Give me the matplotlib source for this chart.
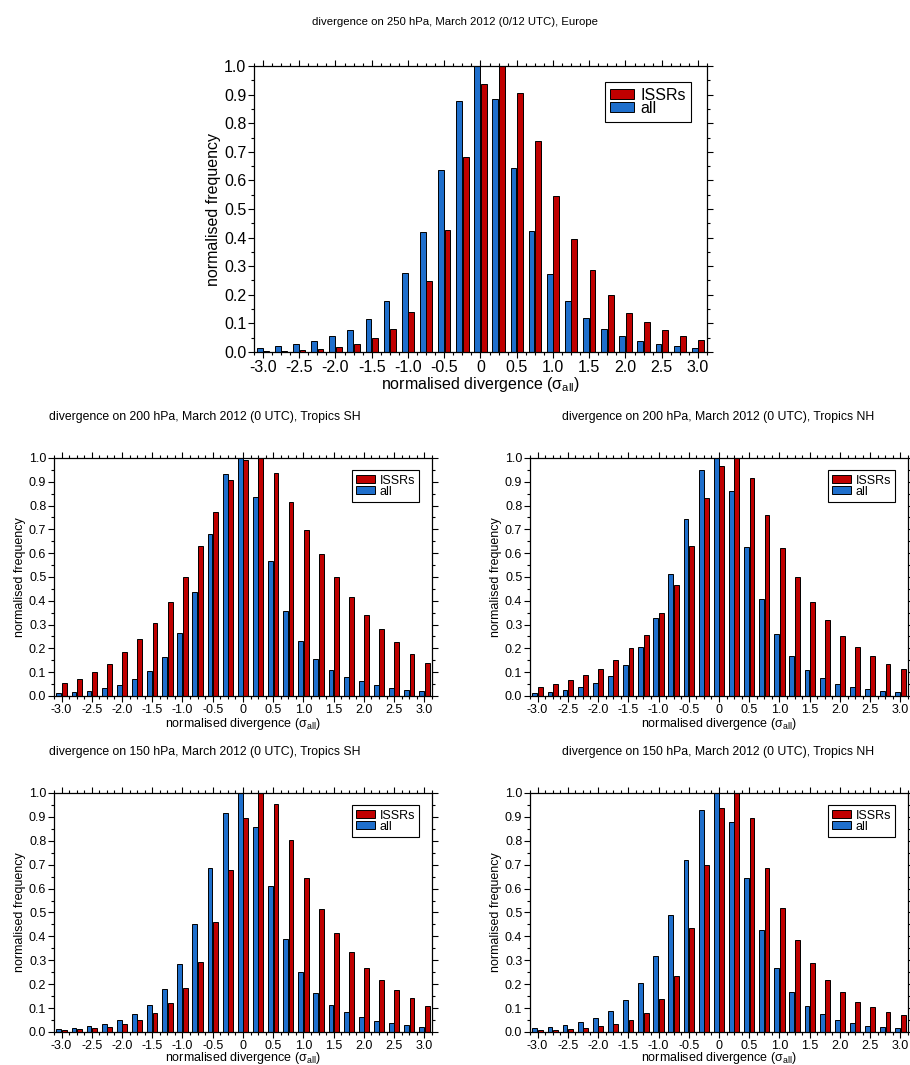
import numpy as np
import matplotlib
matplotlib.use('Agg')
import matplotlib.pyplot as plt
from matplotlib.ticker import MultipleLocator

plt.rcParams['font.family'] = ['Liberation Sans', 'DejaVu Sans']
plt.rcParams['mathtext.fontset'] = 'custom'
plt.rcParams['mathtext.rm'] = 'Liberation Sans'

# bin centres of normalised divergence
bins = [-3.0, -2.75, -2.5, -2.25, -2.0, -1.75, -1.5, -1.25, -1.0, -0.75, -0.5, -0.25, 0.0,
        0.25, 0.5, 0.75, 1.0, 1.25, 1.5, 1.75, 2.0, 2.25, 2.5, 2.75, 3.0]

# 250 hPa, Europe
eu250_all = [0.014, 0.021, 0.028, 0.040, 0.055, 0.078, 0.117, 0.177, 0.275, 0.420, 0.637, 0.877, 1.000,
             0.885, 0.644, 0.422, 0.273, 0.177, 0.120, 0.080, 0.055, 0.039, 0.028, 0.021, 0.015]
eu250_issr = [0.005, 0.005, 0.008, 0.012, 0.019, 0.029, 0.048, 0.082, 0.139, 0.247, 0.428, 0.683, 0.936,
              1.000, 0.907, 0.737, 0.546, 0.394, 0.288, 0.198, 0.138, 0.106, 0.077, 0.057, 0.043]

# 200 hPa, Tropics SH
sh200_all = [0.011, 0.015, 0.022, 0.032, 0.046, 0.070, 0.107, 0.164, 0.265, 0.438, 0.682, 0.931, 1.000,
             0.834, 0.568, 0.356, 0.229, 0.154, 0.108, 0.080, 0.062, 0.045, 0.035, 0.027, 0.020]
sh200_issr = [0.055, 0.073, 0.100, 0.133, 0.184, 0.238, 0.307, 0.394, 0.500, 0.631, 0.771, 0.906, 0.990,
              1.000, 0.935, 0.816, 0.696, 0.598, 0.499, 0.417, 0.342, 0.282, 0.226, 0.177, 0.139]

# 200 hPa, Tropics NH
nh200_all = [0.013, 0.018, 0.027, 0.038, 0.056, 0.084, 0.130, 0.205, 0.327, 0.512, 0.743, 0.950, 1.000,
             0.861, 0.624, 0.407, 0.259, 0.167, 0.109, 0.076, 0.052, 0.038, 0.029, 0.021, 0.017]
nh200_issr = [0.038, 0.049, 0.069, 0.087, 0.115, 0.153, 0.200, 0.257, 0.348, 0.468, 0.631, 0.832, 0.966,
              1.000, 0.914, 0.762, 0.620, 0.498, 0.394, 0.321, 0.254, 0.205, 0.166, 0.136, 0.112]

# 150 hPa, Tropics SH
sh150_all = [0.014, 0.018, 0.025, 0.035, 0.052, 0.076, 0.115, 0.179, 0.283, 0.452, 0.687, 0.917, 1.000,
             0.859, 0.610, 0.390, 0.250, 0.165, 0.115, 0.083, 0.062, 0.048, 0.036, 0.029, 0.022]
sh150_issr = [0.008, 0.011, 0.017, 0.022, 0.035, 0.052, 0.080, 0.122, 0.185, 0.294, 0.460, 0.677, 0.894,
              1.000, 0.955, 0.804, 0.646, 0.515, 0.415, 0.336, 0.269, 0.218, 0.175, 0.144, 0.110]

# 150 hPa, Tropics NH
nh150_all = [0.017, 0.021, 0.029, 0.042, 0.060, 0.088, 0.133, 0.203, 0.317, 0.490, 0.720, 0.930, 1.000,
             0.880, 0.646, 0.425, 0.267, 0.169, 0.110, 0.074, 0.052, 0.036, 0.027, 0.020, 0.015]
nh150_issr = [0.007, 0.010, 0.013, 0.017, 0.024, 0.032, 0.049, 0.080, 0.136, 0.235, 0.436, 0.697, 0.937,
              1.000, 0.895, 0.688, 0.517, 0.385, 0.288, 0.218, 0.168, 0.127, 0.103, 0.083, 0.069]

xticks = [-3.0, -2.5, -2.0, -1.5, -1.0, -0.5, 0.0, 0.5, 1.0, 1.5, 2.0, 2.5, 3.0]
xticklabels = ['-3.0', '-2.5', '-2.0', '-1.5', '-1.0', '-0.5', '0', '0.5', '1.0', '1.5', '2.0', '2.5', '3.0']

red = '#c00000'
blue = '#1f6fcc'


def panel(ax, all_vals, issr_vals, fs, xpad=0.5):
    x = np.array(bins)
    ax.bar(x - 0.045, all_vals, width=0.08, color=blue, edgecolor='black', linewidth=0.7, label='all', zorder=2)
    ax.bar(x + 0.045, issr_vals, width=0.08, color=red, edgecolor='black', linewidth=0.7, label='ISSRs', zorder=2)
    ax.set_xlim(-3.125, 3.125)
    ax.set_ylim(0, 1.0)
    ax.set_xticks(xticks)
    ax.set_xticklabels(xticklabels)
    ax.set_yticks(np.arange(0, 1.01, 0.1))
    ax.set_yticklabels(['%.1f' % v for v in np.arange(0, 1.01, 0.1)])
    ax.xaxis.set_minor_locator(MultipleLocator(0.125))
    ax.yaxis.set_minor_locator(MultipleLocator(0.05))
    ax.tick_params(which='both', direction='out', top=True, right=True, labeltop=False,
                   labelright=False, labelsize=fs, pad=1.5)
    ax.tick_params(which='major', length=4, width=0.8)
    ax.tick_params(which='minor', length=2, width=0.8)
    for s in ax.spines.values():
        s.set_linewidth(0.9)
    ax.set_xlabel('normalised divergence (σ$_{\\rm all}$)', fontsize=fs, labelpad=xpad)
    ax.set_ylabel('normalised frequency', fontsize=fs, labelpad=2)
    h, l = ax.get_legend_handles_labels()
    leg = ax.legend([h[1], h[0]], [l[1], l[0]], loc='upper right', fontsize=fs, fancybox=False,
                    framealpha=1, edgecolor='black', handlelength=1.45, handleheight=0.6,
                    labelspacing=-0.1, handletextpad=0.4, borderpad=0.35, borderaxespad=1.0)
    leg.get_frame().set_linewidth(0.8)


fig = plt.figure(figsize=(9.1, 10.65), dpi=100)

ax1 = fig.add_axes([0.279, 0.6695, 0.498, 0.2685])
panel(ax1, eu250_all, eu250_issr, 11.5)
fig.text(0.5, 1 - 22 / 1065, 'divergence on 250 hPa, March 2012 (0/12 UTC), Europe',
         ha='center', va='center', fontsize=8.2)

ax2 = fig.add_axes([0.0593, 0.3465, 0.4154, 0.2235])
panel(ax2, sh200_all, sh200_issr, 9)
fig.text(205 / 910, 1 - 417 / 1065, 'divergence on 200 hPa, March 2012 (0 UTC), Tropics SH',
         ha='center', va='center', fontsize=8.8)

ax3 = fig.add_axes([0.5824, 0.3465, 0.4154, 0.2235])
panel(ax3, nh200_all, nh200_issr, 9)
fig.text(718 / 910, 1 - 417 / 1065, 'divergence on 200 hPa, March 2012 (0 UTC), Tropics NH',
         ha='center', va='center', fontsize=8.8)

ax4 = fig.add_axes([0.0593, 0.0310, 0.4154, 0.2244])
panel(ax4, sh150_all, sh150_issr, 9, xpad=-1.5)
fig.text(205 / 910, 1 - 752 / 1065, 'divergence on 150 hPa, March 2012 (0 UTC), Tropics SH',
         ha='center', va='center', fontsize=8.8)

ax5 = fig.add_axes([0.5824, 0.0310, 0.4154, 0.2244])
panel(ax5, nh150_all, nh150_issr, 9, xpad=-1.5)
fig.text(718 / 910, 1 - 752 / 1065, 'divergence on 150 hPa, March 2012 (0 UTC), Tropics NH',
         ha='center', va='center', fontsize=8.8)

fig.savefig('out.png', dpi=100)
